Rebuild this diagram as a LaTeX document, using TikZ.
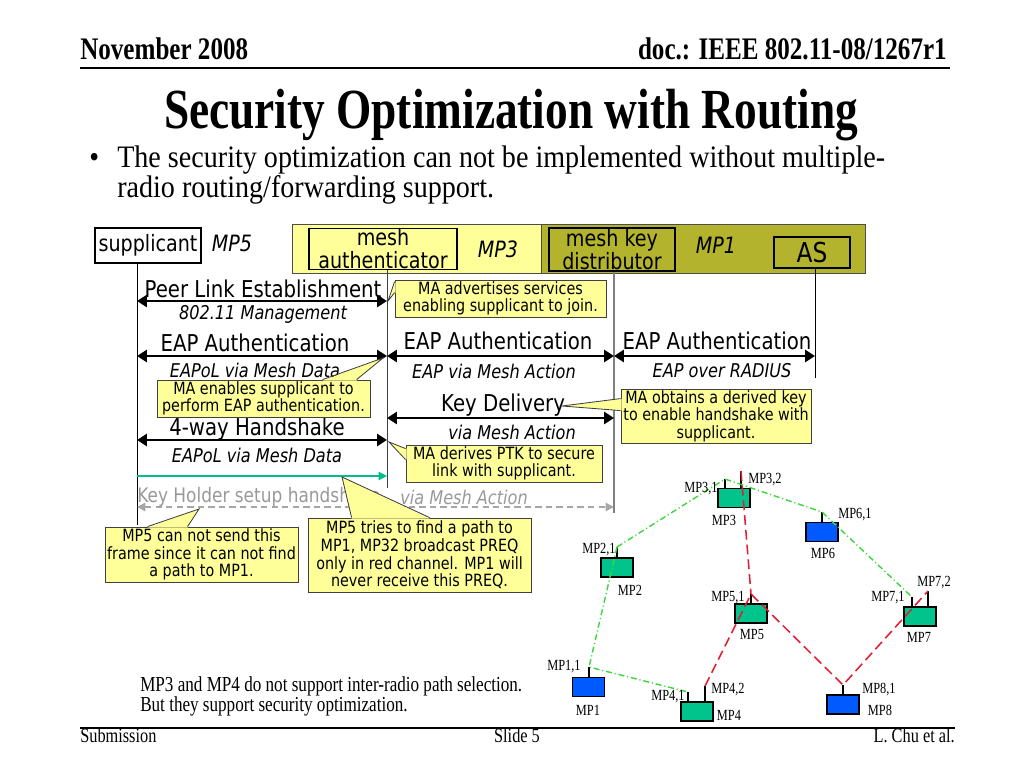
\documentclass[tikz,border=0pt]{standalone}
\usepackage{fontspec}
\setmainfont{Liberation Serif}[FakeStretch=0.8]
\newfontfamily\bfont{Liberation Serif}[FakeStretch=0.9]
\newfontfamily\vfont{DejaVu Sans}[FakeStretch=0.85]
\usetikzlibrary{arrows.meta,calc}

\definecolor{noteyellow}{RGB}{255,255,153}
\definecolor{olivebar}{RGB}{179,179,45}
\definecolor{mpgreen}{RGB}{0,196,140}
\definecolor{mpblue}{RGB}{0,90,255}
\definecolor{linkgreen}{RGB}{60,215,60}
\definecolor{linkred}{RGB}{225,30,50}
\definecolor{arrowteal}{RGB}{0,190,140}
\newcommand{\pxu}{0.025cm}

\begin{document}
\begin{tikzpicture}[
    x=0.025cm, y=-0.025cm,
    hdr/.style={font=\bfseries\fontsize{22.3}{22}\selectfont, inner sep=0pt},
    ft/.style={font=\fontsize{14.5}{14}\selectfont, inner sep=0pt},
    bul/.style={font=\bfont\fontsize{22.2}{21.5}\selectfont, inner sep=0pt},
    box/.style={draw, line width=0.8pt, inner sep=0pt, align=center, font=\vfont\fontsize{16}{16.5}\selectfont},
    role/.style={font=\vfont\itshape\fontsize{16}{18}\selectfont, inner sep=0pt},
    lbl/.style={font=\vfont\fontsize{16.5}{18}\selectfont, inner sep=0pt},
    sub/.style={font=\vfont\itshape\fontsize{13.5}{15}\selectfont, inner sep=0pt},
    msg/.style={line width=2pt, {Triangle[length=7pt,width=8.5pt]}-{Triangle[length=7pt,width=8.5pt]}},
    life/.style={line width=0.6pt},
    keyh/.style={black!35, line width=1.1pt, dash pattern=on 4.5pt off 3pt,
        {Triangle[length=6pt,width=6pt]}-{Triangle[length=6pt,width=6pt]}},
    note/.style={draw=black!75, line width=0.6pt, fill=noteyellow, align=center, inner sep=0pt,
        font=\vfont\fontsize{12}{12.5}\selectfont},
    wedge/.style={draw=black!75, line width=0.6pt},
    mp/.style={draw, line width=1pt, minimum width=32*\pxu, minimum height=19*\pxu, inner sep=0pt},
    ant/.style={line width=1pt},
    mplbl/.style={font=\fontsize{11}{11}\selectfont, inner sep=0pt},
    wifi/.style={linkgreen, line width=1pt, dash pattern=on 4.3pt off 2pt on 0.8pt off 2pt},
    radio/.style={linkred, line width=1.1pt, dash pattern=on 7pt off 3.5pt},
]
\useasboundingbox (0,0) rectangle (1024,768);

% --- Slide header ---
\node[hdr, anchor=base west] (date) at (80,60) {November 2008};
\node[hdr, anchor=base east] (doc) at (947,60) {doc.: IEEE 802.11-08/1267r1};
\draw[line width=1.3pt] (80,68) -- (950,68);
\node[font=\bfseries\fontsize{40.3}{40}\selectfont, inner sep=0pt, anchor=base] (title) at (511,129)
    {Security Optimization with Routing};
\node[bul, anchor=base west] (dot) at (89,168) {•};
\node[bul, anchor=base west] (b1) at (117,168) {The security optimization can not be implemented without multiple-};
\node[bul, anchor=base west] (b2) at (117,197) {radio routing/forwarding support.};

% --- Entities ---
\filldraw[fill=noteyellow, draw=black!70, line width=0.6pt] (292,224) rectangle (541,273);
\filldraw[fill=olivebar, draw=black!70, line width=0.6pt] (541,224) rectangle (865,273);

\node[box, fill=white, minimum width=106*\pxu, minimum height=35*\pxu] (sup) at (148,245.5) {supplicant};
\node[role] (mp5r) at (232,243) {MP5};
\node[box, fill=noteyellow, minimum width=148*\pxu, minimum height=40*\pxu] (ma) at (383,249) {mesh\\authenticator};
\node[role] (mp3r) at (498,249) {MP3};
\node[box, fill=olivebar, minimum width=126*\pxu, minimum height=43*\pxu] (mkd) at (612,249.5) {mesh key\\distributor};
\node[role] (mp1r) at (716,245) {MP1};
\node[box, fill=olivebar, minimum width=76*\pxu, minimum height=31*\pxu,
    font=\vfont\fontsize{19.5}{20}\selectfont] (as) at (812,252.5) {AS};

% lifelines
\coordinate (supEnd) at (137,525);
\coordinate (maEnd) at (387,488);
\coordinate (mkdEnd) at (614,513);
\coordinate (asEnd) at (815,378);
\draw[life] (sup.south -| supEnd) -- (supEnd);
\draw[life, black!75] (ma.south -| maEnd) -- (maEnd);
\draw[black!50, line width=1.6pt] (mkd.south -| mkdEnd) -- (mkdEnd);
\draw[life] (as.south -| asEnd) -- (asEnd);

% message rows
\coordinate (r1) at (0,301);
\coordinate (r2) at (0,356);
\coordinate (r3) at (0,418);
\coordinate (r4) at (0,440);
\coordinate (r5) at (0,476);
\coordinate (r6) at (0,507);

\draw[msg] (supEnd |- r1) -- (maEnd |- r1);
\draw[msg] (supEnd |- r2) -- (maEnd |- r2);
\draw[msg] (maEnd |- r2) -- (mkdEnd |- r2);
\draw[msg] (mkdEnd |- r2) -- (asEnd |- r2);
\draw[msg] (maEnd |- r3) -- (mkdEnd |- r3);
\draw[msg] (supEnd |- r4) -- (maEnd |- r4);
\draw[arrowteal, line width=0.9pt, -{Triangle[length=6pt,width=6pt]}] (supEnd |- r5) -- (maEnd |- r5);
\draw[keyh] (supEnd |- r6) -- (mkdEnd |- r6);

% message labels
\node[lbl] (pl) at (263,289) {Peer Link Establishment};
\node[sub] (plm) at (263,314) {802.11 Management};
\node[lbl] (eap1) at (255,343) {EAP Authentication};
\node[sub] (eap1m) at (255,370) {EAPoL via Mesh Data};
\node[lbl] (eap2) at (498,341) {EAP Authentication};
\node[sub] (eap2m) at (494,371) {EAP via Mesh Action};
\node[lbl] (eap3) at (717,341) {EAP Authentication};
\node[sub] (eap3m) at (722,371) {EAP over RADIUS};
\node[lbl] (kd) at (503,405) {Key Delivery};
\node[sub] (kdm) at (512,432) {via Mesh Action};
\node[lbl] (hs) at (257,429) {4-way Handshake};
\node[sub] (hsm) at (257,455) {EAPoL via Mesh Data};
\node[lbl, black!40, anchor=west, font=\vfont\fontsize{14.2}{16}\selectfont] (kh) at (137,497) {Key Holder setup handshake};
\node[sub, black!40, anchor=west] (khm) at (400,497) {via Mesh Action};

% --- Callouts ---
\node[note, minimum width=211*\pxu, minimum height=37*\pxu] (n1) at (500.5,298.5)
    {MA advertises services\\enabling supplicant to join.};
\coordinate (t1) at (388,301);
\fill[noteyellow] ($(n1.north west)+(1,2)$) -- (t1) -- ($(n1.north west)+(1,13)$) -- cycle;
\draw[wedge] ($(n1.north west)+(0,2)$) -- (t1) -- ($(n1.north west)+(0,13)$);

\node[note, minimum width=213*\pxu, minimum height=37*\pxu] (n2) at (263.5,398.5)
    {MA enables supplicant to\\perform EAP authentication.};
\coordinate (t2) at (383,358);
\fill[noteyellow] ($(n2.north west)+(166,1)$) -- (t2) -- ($(n2.north west)+(200,1)$) -- cycle;
\draw[wedge] ($(n2.north west)+(166,0)$) -- (t2) -- ($(n2.north west)+(200,0)$);

\node[note, minimum width=190*\pxu, minimum height=54*\pxu] (n3) at (716,416)
    {MA obtains a derived key\\to enable handshake with\\supplicant.};
\coordinate (t3) at (562,406);
\fill[noteyellow] ($(n3.north west)+(1,10)$) -- (t3) -- ($(n3.north west)+(1,22)$) -- cycle;
\draw[wedge] ($(n3.north west)+(0,10)$) -- (t3) -- ($(n3.north west)+(0,22)$);

\node[note, minimum width=196*\pxu, minimum height=37*\pxu] (n4) at (504,463.5)
    {MA derives PTK to secure\\link with supplicant.};
\coordinate (t4) at (389,442);
\fill[noteyellow] ($(n4.north west)+(1,4)$) -- (t4) -- ($(n4.north west)+(1,15)$) -- cycle;
\draw[wedge] ($(n4.north west)+(0,4)$) -- (t4) -- ($(n4.north west)+(0,15)$);

\node[note, minimum width=193*\pxu, minimum height=55*\pxu] (n5) at (201.5,554.5)
    {MP5 can not send this\\frame since it can not find\\a path to MP1.};
\coordinate (t5) at (199,509);
\fill[noteyellow] ($(n5.north west)+(43,1)$) -- (t5) -- ($(n5.north west)+(83,1)$) -- cycle;
\draw[wedge] ($(n5.north west)+(43,0)$) -- (t5) -- ($(n5.north west)+(83,0)$);

\node[note, minimum width=223*\pxu, minimum height=74*\pxu] (n6) at (419.5,555)
    {MP5 tries to find a path to\\MP1, MP32 broadcast PREQ\\only in red channel. MP1 will\\never receive this PREQ.};
\coordinate (t6) at (342,477);
\fill[noteyellow] ($(n6.north west)+(44,1)$) -- (t6) -- ($(n6.north west)+(122,1)$) -- cycle;
\draw[wedge] ($(n6.north west)+(44,0)$) -- (t6) -- ($(n6.north west)+(122,0)$);

% --- Mesh topology ---
\node[mp, fill=mpgreen] (mp3) at (734,498) {};
\node[mp, fill=mpblue] (mp6) at (822,532) {};
\node[mp, fill=mpgreen] (mp2) at (617,567.5) {};
\node[mp, fill=mpgreen] (mp5) at (751,613.5) {};
\node[mp, fill=mpgreen] (mp7) at (920,616.5) {};
\node[mp, fill=mpblue] (mp1) at (588.5,687) {};
\node[mp, fill=mpgreen] (mp4) at (697,711.5) {};
\node[mp, fill=mpblue] (mp8) at (843,704.5) {};

% antennas
\coordinate (a31) at (725,479);
\coordinate (a32) at (741,471);
\coordinate (a61) at (822,512);
\coordinate (a21) at (617,547);
\coordinate (a51) at (751,594);
\coordinate (a71) at (912,597);
\coordinate (a72) at (928,591);
\coordinate (a11) at (589,667);
\coordinate (a41) at (688,692);
\coordinate (a42) at (705,686);
\coordinate (a81) at (843,685);
\foreach \a/\m in {31/mp3, 32/mp3, 61/mp6, 21/mp2, 51/mp5, 71/mp7, 72/mp7, 11/mp1, 41/mp4, 42/mp4, 81/mp8}
    \draw[ant] (a\a) -- (a\a |- \m.north);

% links
\draw[wifi] (a21) -- (a31) -- (a61) -- (a71);
\draw[wifi] (a21) -- (a11) -- (a41);
\draw[radio] (a32) -- (a51);
\draw[radio] (a42) -- (a51) -- (a81) -- (a72);

% labels
\node[mplbl] (l31) at (701,489) {MP3,1};
\node[mplbl] (l32) at (765,480) {MP3,2};
\node[mplbl] (l3) at (724,520) {MP3};
\node[mplbl] (l61) at (855,515) {MP6,1};
\node[mplbl] (l6) at (823,553) {MP6};
\node[mplbl] (l21) at (599,550) {MP2,1};
\node[mplbl] (l2) at (630,590) {MP2};
\node[mplbl] (l51) at (728,598) {MP5,1};
\node[mplbl] (l5) at (752,635) {MP5};
\node[mplbl] (l71) at (888,598) {MP7,1};
\node[mplbl] (l72) at (934,583) {MP7,2};
\node[mplbl] (l7) at (919,637) {MP7};
\node[mplbl] (l11) at (564,667) {MP1,1};
\node[mplbl] (l1) at (588,710) {MP1};
\node[mplbl] (l41) at (668,697) {MP4,1};
\node[mplbl] (l42) at (728,690) {MP4,2};
\node[mplbl] (l4) at (729,715) {MP4};
\node[mplbl] (l81) at (879,690) {MP8,1};
\node[mplbl] (l8) at (880,710) {MP8};

% remark
\node[font=\fontsize{15.2}{15}\selectfont, inner sep=0pt, anchor=base west] (rem1) at (140,691)
    {MP3 and MP4 do not support inter-radio path selection.};
\node[font=\fontsize{15.2}{15}\selectfont, inner sep=0pt, anchor=base west] (rem2) at (140,711)
    {But they support security optimization.};

% --- Slide footer ---
\draw[line width=1.3pt] (80,728) -- (955,728);
\node[ft, anchor=base west] (subm) at (80,742) {Submission};
\node[ft, anchor=base] (slide) at (517,742) {Slide 5};
\node[ft, anchor=base east] (auth) at (955,742) {L. Chu et al.};
\end{tikzpicture}
\end{document}
